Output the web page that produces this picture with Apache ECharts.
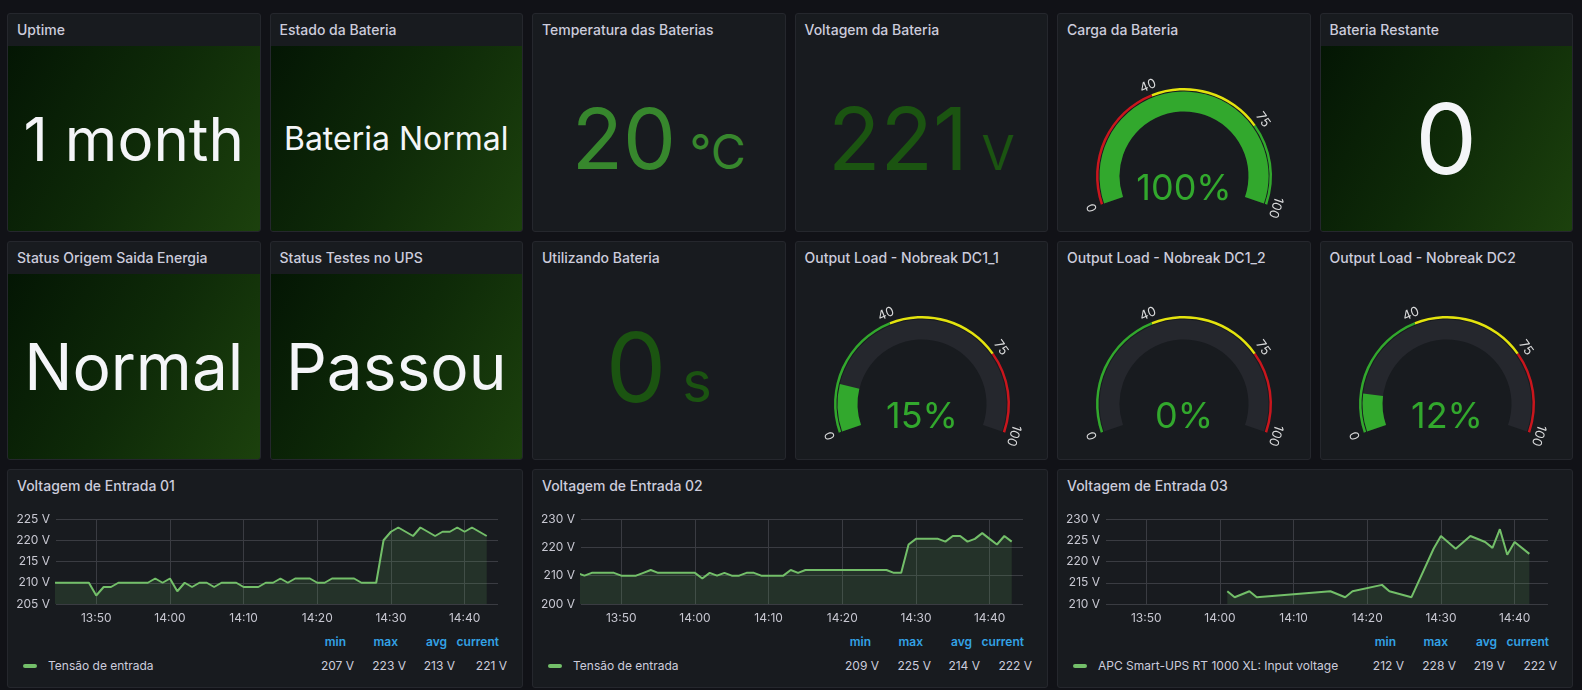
<!DOCTYPE html>
<html>
<head>
<meta charset="utf-8">
<title>Nobreak - UPS</title>
<script src="https://cdn.jsdelivr.net/npm/echarts@6.0.0/dist/echarts.min.js"></script>
<style>
	html, body { margin: 0; padding: 0; width: 1582px; height: 690px; overflow: hidden; background: #111217; }
	body { position: relative; font-family: Inter, "Noto Sans", sans-serif; }
	.panel { position: absolute; box-sizing: border-box; background: #181b1f; border: 1px solid #25272d; border-radius: 3px; overflow: hidden; }
	.titulo { position: absolute; left: 9px; top: 6px; font-size: 14px; font-weight: 500; line-height: 20px; color: #ccccdc; white-space: nowrap; }
	.corpo { position: absolute; left: 0; right: 0; top: 32px; bottom: 0; display: flex; align-items: center; justify-content: center; white-space: nowrap; }
	.verde { background: linear-gradient(120deg, #041604 0%, #0e2a08 50%, #1c410d 100%); }
	.valor { line-height: 1; }
	.grafico { position: absolute; left: 0; top: 0; right: 0; bottom: 0; }
	.serie { position: absolute; left: 0; right: 0; top: 32px; height: 130px; }
	.leg { position: absolute; font-size: 12px; line-height: 16px; white-space: nowrap; color: #ccccdc; }
	.cab { color: #33a2e5; font-weight: 600; }
	.marca { position: absolute; left: 15px; top: 194px; width: 14px; height: 4px; border-radius: 2px; background: #73bf69; }
</style>
</head>
<body>
<script type="text/javascript">

	var statTitulos = ['Uptime', 'Estado da Bateria', 'Bateria Restante', 'Status Origem Saida Energia', 'Status Testes no UPS'];
	var statTextos = ['1 month', 'Bateria Normal', '0', 'Normal', 'Passou'];

	var medidaTitulos = ['Temperatura das Baterias', 'Voltagem da Bateria', 'Utilizando Bateria'];
	var medidaValores = [20, 221, 0];
	var medidaUnidades = ['°C', 'V', 's'];

	var gaugeTitulos = ['Carga da Bateria', 'Output Load - Nobreak DC1_1', 'Output Load - Nobreak DC1_2', 'Output Load - Nobreak DC2'];
	var gaugeValores = [100, 15, 0, 12];
	var gaugeMarcas = [0, 40, 75, 100];

	var serieTitulos = ['Voltagem de Entrada 01', 'Voltagem de Entrada 02', 'Voltagem de Entrada 03'];
	var serieLegendas = ['Tensão de entrada', 'Tensão de entrada', 'APC Smart-UPS RT 1000 XL: Input voltage'];
	var colunasLegenda = ['min', 'max', 'avg', 'current'];
	var estat01 = [207, 223, 213, 221];
	var estat02 = [209, 225, 214, 222];
	var estat03 = [212, 228, 219, 222];

	var horaInicio = '13:44:32';
	var horaFim = '14:44:32';
	var horasEixo = ['13:50', '14:00', '14:10', '14:20', '14:30', '14:40'];

	// uma amostra por minuto, 13:44 ate 14:43
	var tensao01 = [210, 210, 210, 210, 210, 210, 207, 209, 209, 210,
		210, 210, 210, 210, 211, 210, 211, 208, 210, 209,
		210, 210, 209, 210, 210, 210, 209, 209, 209, 210,
		210, 211, 210, 211, 211, 211, 210, 210, 211, 211,
		211, 211, 210, 210, 210, 220, 222, 223, 222, 221,
		223, 222, 221, 222, 222, 223, 222, 223, 222, 221];
	var tensao02 = [211, 210, 211, 211, 211, 211, 210, 210, 210, 211,
		212, 211, 211, 211, 211, 211, 211, 209, 211, 210,
		211, 210, 210, 211, 211, 210, 210, 210, 210, 212,
		211, 212, 212, 212, 212, 212, 212, 212, 212, 212,
		212, 212, 212, 211, 211, 221, 223, 223, 223, 223,
		222, 224, 224, 222, 223, 225, 223, 221, 224, 222];
	// terceira fonte so tem leituras esparsas
	var horas03 = ['14:01', '14:02', '14:04', '14:05', '14:15', '14:17', '14:18', '14:22', '14:23', '14:26',
		'14:29', '14:30', '14:32', '14:34', '14:36', '14:37', '14:38', '14:39', '14:40', '14:42'];
	var tensao03 = [213, 211.6, 213, 211.6, 213, 211.6, 213, 214.5, 213, 211.6,
		223, 226, 223, 226, 224.6, 223.2, 227.6, 221.6, 224.6, 221.8];

	var eixoY01 = [205, 225, 5];
	var eixoY02 = [200, 230, 10];
	var eixoY03 = [210, 230, 5];

	// ---------- layout ----------
	var COL = [7, 269.5, 532, 794.5, 1057, 1319.5], LARG = 253.5;
	var LIN = [13, 241, 469], ALT = 219;
	var COL3 = [7, 532, 1057], LARG3 = 516;

	var VERDE = '#32a82d', AMARELO = '#e3e30e', VERMELHO = '#c9161d';
	var GRADE = '#3a3c42', ROTULO = '#c7c7d1';
	var FONTE = 'Inter';

	function painel(x, y, w, h, titulo) {
		var el = document.createElement('div');
		el.className = 'panel';
		el.style.left = x + 'px';
		el.style.top = y + 'px';
		el.style.width = w + 'px';
		el.style.height = h + 'px';
		document.body.appendChild(el);
		var t = document.createElement('div');
		t.className = 'titulo';
		t.textContent = titulo;
		el.appendChild(t);
		return el;
	}

	// minutos desde 00:00, para o eixo x numerico
	function hora(txt) {
		var p = txt.split(':');
		return (+p[0]) * 60 + (+p[1]) + (+(p[2] || 0)) / 60;
	}

	function hhmm(v) {
		var m = Math.round(v);
		return ('0' + Math.floor(m / 60)).slice(-2) + ':' + ('0' + (m % 60)).slice(-2);
	}

	// stats de texto com fundo verde
	var statPos = [[0, 0, 60], [1, 0, 32], [5, 0, 98], [0, 1, 64], [1, 1, 64]];
	statTextos.forEach(function (txt, i) {
		var p = statPos[i];
		var el = painel(COL[p[0]], LIN[p[1]], LARG, ALT, statTitulos[i]);
		var c = document.createElement('div');
		c.className = 'corpo verde';
		c.innerHTML = '<span class="valor" style="font-size:' + p[2] + 'px;color:#f4f5f8">' + txt + '</span>';
		el.appendChild(c);
	});

	// stats numericos com unidade
	var medidaPos = [[2, 0, 84, 48, '#37872d'], [3, 0, 86, 48, '#1b5411'], [2, 1, 96, 56, '#1b5411']];
	medidaValores.forEach(function (v, i) {
		var p = medidaPos[i];
		var el = painel(COL[p[0]], LIN[p[1]], LARG, ALT, medidaTitulos[i]);
		var c = document.createElement('div');
		c.className = 'corpo';
		c.innerHTML = '<div class="valor" style="color:' + p[4] + '"><span style="font-size:' + p[2] + 'px">' + v +
			'</span><span style="font-size:' + p[3] + 'px">&nbsp;' + medidaUnidades[i] + '</span></div>';
		el.appendChild(c);
	});

	// gauges
	var gaugePos = [[4, 0], [3, 1], [4, 1], [5, 1]];
	var faixaCarga = [[0.4, VERMELHO], [0.75, AMARELO], [1, VERDE]];
	var faixaCargaSaida = [[0.4, VERDE], [0.75, AMARELO], [1, VERMELHO]];

	function opcaoGauge(valor, faixas) {
		var comum = {
			type: 'gauge', center: ['50%', 162], startAngle: 199, endAngle: -19,
			min: 0, max: 100, pointer: { show: false }, anchor: { show: false },
			title: { show: false }, axisTick: { show: false }
		};
		return {
			animation: false,
			series: [
				Object.assign({}, comum, {
					radius: 88, splitNumber: 20,
					axisLine: { lineStyle: { width: 2.5, color: faixas } },
					splitLine: { show: false, length: 0, distance: 0 },
					axisLabel: {
						distance: -9, rotate: 'tangential', color: '#d8d9da', fontSize: 13, fontFamily: FONTE,
						formatter: function (v) { return gaugeMarcas.indexOf(Math.round(v)) >= 0 ? String(Math.round(v)) : ''; }
					},
					detail: { show: false },
					data: [{ value: valor }]
				}),
				Object.assign({}, comum, {
					radius: 84.5,
					axisLine: { lineStyle: { width: 20, color: [[1, '#25272d']] } },
					progress: { show: true, width: 20, itemStyle: { color: VERDE } },
					splitLine: { show: false }, axisLabel: { show: false },
					detail: { offsetCenter: [0, 13], fontSize: 36, fontWeight: 'normal', color: VERDE, fontFamily: FONTE, formatter: '{value}%' },
					data: [{ value: valor }]
				})
			]
		};
	}

	gaugeValores.forEach(function (v, i) {
		var p = gaugePos[i];
		var el = painel(COL[p[0]], LIN[p[1]], LARG, ALT, gaugeTitulos[i]);
		var g = document.createElement('div');
		g.className = 'grafico';
		el.appendChild(g);
		var chart = echarts.init(g);
		chart.setOption(opcaoGauge(v, i === 0 ? faixaCarga : faixaCargaSaida));
	});

	// series temporais
	var minutos = [];
	for (var m = 44; m < 104; m++) {
		minutos.push((13 + Math.floor(m / 60)) + ':' + ('0' + (m % 60)).slice(-2));
	}
	var series = [
		{ horas: minutos, valores: tensao01, eixo: eixoY01, estat: estat01 },
		{ horas: minutos, valores: tensao02, eixo: eixoY02, estat: estat02 },
		{ horas: horas03, valores: tensao03, eixo: eixoY03, estat: estat03 }
	];
	var marcasX = horasEixo.map(hora);

	function opcaoSerie(s) {
		var dados = s.horas.map(function (h, i) { return [hora(h), s.valores[i]]; });
		return {
			animation: false,
			textStyle: { fontFamily: FONTE },
			grid: { left: 48, right: 24, top: 17, bottom: 28 },
			xAxis: {
				type: 'value', min: hora(horaInicio), max: hora(horaFim),
				axisLine: { show: false },
				axisTick: { show: false, customValues: marcasX },
				axisLabel: { customValues: marcasX, formatter: hhmm, color: ROTULO, fontSize: 12, margin: 8, fontFamily: FONTE },
				splitLine: { show: true, lineStyle: { color: GRADE, width: 1 } }
			},
			yAxis: {
				type: 'value', min: s.eixo[0], max: s.eixo[1], interval: s.eixo[2],
				axisLine: { show: false }, axisTick: { show: false },
				axisLabel: { formatter: '{value} V', color: ROTULO, fontSize: 12, margin: 6, fontFamily: FONTE },
				splitLine: { lineStyle: { color: GRADE, width: 1 } }
			},
			series: [{
				type: 'line', data: dados, showSymbol: false, symbol: 'none', clip: true,
				lineStyle: { color: '#73bf69', width: 2 },
				itemStyle: { color: '#73bf69' },
				areaStyle: { color: 'rgba(115,191,105,0.2)' }
			}]
		};
	}

	var direitaValor = [168, 116, 67, 15];
	var direitaCab = [176, 124, 75, 23];

	series.forEach(function (s, i) {
		var el = painel(COL3[i], LIN[2], LARG3, ALT, serieTitulos[i]);
		var g = document.createElement('div');
		g.className = 'serie';
		el.appendChild(g);
		var chart = echarts.init(g);
		chart.setOption(opcaoSerie(s));

		var mk = document.createElement('div');
		mk.className = 'marca';
		el.appendChild(mk);
		var nome = document.createElement('div');
		nome.className = 'leg';
		nome.style.left = '40px';
		nome.style.top = '188px';
		nome.textContent = serieLegendas[i];
		el.appendChild(nome);

		colunasLegenda.forEach(function (col, k) {
			var h = document.createElement('div');
			h.className = 'leg cab';
			h.style.right = direitaCab[k] + 'px';
			h.style.top = '164px';
			h.textContent = col;
			el.appendChild(h);
			var v = document.createElement('div');
			v.className = 'leg';
			v.style.right = direitaValor[k] + 'px';
			v.style.top = '188px';
			v.textContent = s.estat[k] + ' V';
			el.appendChild(v);
		});
	});

</script>
</body>
</html>
